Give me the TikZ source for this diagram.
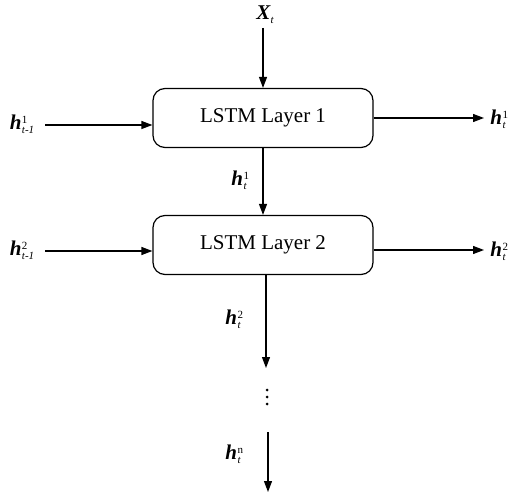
\documentclass[tikz,border=0pt]{standalone}
\usepackage{fontspec}
\setmainfont{Liberation Serif}
\usetikzlibrary{arrows.meta}
\newcommand{\hv}[2]{\textbf{\textit{h}}\kern0.5pt\raisebox{6pt}{\rlap{\fontsize{11}{11}\selectfont #1}}\raisebox{-4pt}{\fontsize{11}{11}\selectfont\itshape #2}}
\begin{document}
\begin{tikzpicture}[x=1pt,y=-1pt,
  layerbox/.style={draw,line width=1.2pt,rounded corners=12pt,minimum width=220pt,minimum height=59pt,inner sep=0pt,font=\fontsize{21}{25}\selectfont},
  lbl/.style={inner sep=0pt,font=\fontsize{21}{25}\selectfont},
  dot/.style={circle,fill,inner sep=0pt,minimum size=3pt},
  conn/.style={line width=1.2pt,-{Triangle[length=11pt,width=8pt]}}]
\useasboundingbox (0,0) rectangle (522,497);
\node[layerbox] (b1) at (263,118) {LSTM Layer 1};
\node[layerbox] (b2) at (263,245) {LSTM Layer 2};
\node[lbl] (x) at (265,15) {\textbf{\textit{X}}\raisebox{-4pt}{\fontsize{11}{11}\selectfont\itshape t}};
\coordinate (xs) at (263,28);
\draw[conn] (xs) -- (xs |- b1.north);
% row 1
\node[lbl] (l1) at (22,124) {\hv{1}{t-1}};
\coordinate (l1s) at (45,125);
\draw[conn] (l1s) -- (l1s -| b1.west);
\coordinate (r1e) at (484,118);
\draw[conn] (b1.east) -- (r1e);
\node[lbl] (r1) at (498,119) {\hv{1}{t}};
% row 2
\node[lbl] (l2) at (22,250) {\hv{2}{t-1}};
\coordinate (l2s) at (45,251);
\draw[conn] (l2s) -- (l2s -| b2.west);
\coordinate (r2e) at (484,250);
\draw[conn] (b2.east |- r2e) -- (r2e);
\node[lbl] (r2) at (498,251) {\hv{2}{t}};
% vertical
\draw[conn] (b1.south) -- (b2.north);
\node[lbl] (m1) at (239,180) {\hv{1}{t}};
\coordinate (d1s) at (266,274);
\coordinate (d1e) at (266,368);
\draw[conn] (d1s) -- (d1e);
\node[lbl] (m2) at (233,319) {\hv{2}{t}};
\node[dot] (dt1) at (267,390) {};
\node[dot] (dt2) at (267,397) {};
\node[dot] (dt3) at (267,404) {};
\coordinate (d2s) at (268,432);
\coordinate (d2e) at (268,492);
\draw[conn] (d2s) -- (d2e);
\node[lbl] (mn) at (233,454) {\hv{n}{t}};
\end{tikzpicture}
\end{document}
